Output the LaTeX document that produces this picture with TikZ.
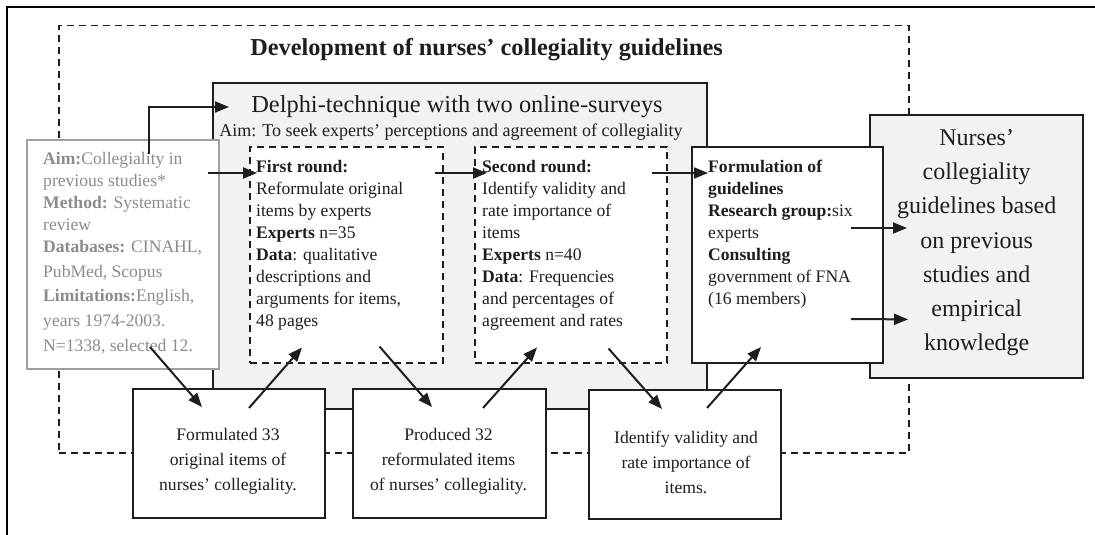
\documentclass[tikz,border=0pt]{standalone}
\usepackage{fontspec}
\setmainfont{Liberation Serif}
\usetikzlibrary{arrows.meta,calc}

\definecolor{panelgray}{HTML}{F1F2F4}
\definecolor{srcgray}{HTML}{8C8C8C}
\definecolor{srcedge}{HTML}{A0A0A0}
\definecolor{ink}{HTML}{1E1E1E}

\tikzset{
  dashbox/.style={draw=ink, line width=1.5pt, dash pattern=on 7pt off 5pt, anchor=north west, inner sep=0pt},
  roundbox/.style={dashbox, fill=white},
  panel/.style={draw=ink, line width=2pt, fill=panelgray, anchor=north west, inner sep=0pt},
  srcbox/.style={draw=srcedge, line width=2pt, fill=white, anchor=north west, inner sep=0pt},
  stepbox/.style={draw=ink, line width=2pt, fill=white, anchor=north west, inner sep=0pt},
  txt/.style={anchor=north west, align=left, inner sep=0pt},
  itemtxt/.style={align=center, inner sep=0pt, font=\fontsize{17.6}{25}\selectfont},
  flow/.style={-{Triangle[length=14pt,width=11pt]}, line width=2pt, draw=ink},
}

\begin{document}
\begin{tikzpicture}[x=1pt, y=-1pt, font=\fontsize{17.6}{22}\selectfont, text=ink]
    \useasboundingbox (0,0) rectangle (1095,535);
    \draw[line width=2.2pt] (7,535) -- (7,7) -- (1095,7);

    % outer frame of the whole development
    \node[dashbox, minimum width=850pt, minimum height=427pt] (devel) at (58,25) {};
    \node[font=\bfseries\fontsize{24.3}{28}\selectfont] (title) at (486.5,50) {Development of nurses’ collegiality guidelines};

    % Delphi panel
    \node[panel, minimum width=494pt, minimum height=326pt] (delphi) at (212,82) {};
    \node[font=\fontsize{24.4}{28}\selectfont] (delphititle) at (457,107) {Delphi-technique with two online-surveys};
    \node[font=\fontsize{18}{22}\selectfont] (delphiaim) at (451,132) {Aim: To seek experts’ perceptions and agreement of collegiality};

    % previous studies
    \node[srcbox, minimum width=192pt, minimum height=229pt] (src) at (26,139) {};
    \node[txt, text=srcgray] (srctext) at ($(src.north west)+(17,13)$) {\textbf{Aim:}Collegiality in\\previous studies*\\\textbf{Method:} Systematic\\review\\\textbf{Databases:} CINAHL,\\[2.7pt]PubMed, Scopus\\[2.7pt]\textbf{Limitations:}English,\\[2.7pt]years 1974-2003.\\[2.7pt]N=1338, selected 12.};

    % the two rounds
    \node[roundbox, minimum width=193pt, minimum height=216pt] (first) at (249,146) {};
    \node[txt] (firsttext) at ($(first.north west)+(7,14)$) {\textbf{First round:}\\Reformulate original\\items by experts\\\textbf{Experts} n=35\\\textbf{Data}: qualitative\\descriptions and\\arguments for items,\\48 pages};
    \node[roundbox, minimum width=192pt, minimum height=216pt] (second) at (474,146) {};
    \node[txt] (secondtext) at ($(second.north west)+(8,14)$) {\textbf{Second round:}\\Identify validity and\\rate importance of\\items\\\textbf{Experts} n=40\\\textbf{Data}: Frequencies\\and percentages of\\agreement and rates};

    % result
    \node[panel, line width=2.4pt, minimum width=213pt, minimum height=263pt] (nurses) at (869,114) {};
    \node[align=center, inner sep=0pt, font=\fontsize{24}{34.3}\selectfont] (nursestext) at ($(nurses.center)+(0,-4)$) {Nurses’\\collegiality\\guidelines based\\on previous\\studies and\\empirical\\knowledge};

    \node[stepbox, minimum width=191pt, minimum height=216pt] (formul) at (691,146) {};
    \node[txt] (formultext) at ($(formul.north west)+(17,14)$) {\textbf{Formulation of}\\\textbf{guidelines}\\\textbf{Research group:}six\\experts\\\textbf{Consulting}\\government of FNA\\(16 members)};

    % outcomes
    \node[stepbox, minimum width=192pt, minimum height=129pt] (items1) at (132,388) {};
    \node[itemtxt] (items1text) at ($(items1.center)+(-1,8)$) {Formulated 33\\original items of\\nurses’ collegiality.};
    \node[stepbox, minimum width=193pt, minimum height=129pt] (items2) at (352,388) {};
    \node[itemtxt] (items2text) at ($(items2.center)+(-1,8)$) {Produced 32\\reformulated items\\of nurses’ collegiality.};
    \node[stepbox, minimum width=192pt, minimum height=129pt] (items3) at (588,389) {};
    \node[itemtxt] (items3text) at ($(items3.center)+(1,8)$) {Identify validity and\\rate importance of\\items.};

    % arrows
    \draw[flow] ($(src.north)+(26,15)$) |- ($(delphi.north west)+(17,25)$);
    \draw[flow] ($(src.north east)+(-12,34)$) -- ($(first.north west)+(8,27)$);
    \draw[flow] ($(first.north east)+(-9,27)$) -- ($(second.north west)+(13,27)$);
    \draw[flow] ($(second.north east)+(-16,27)$) -- ($(formul.north west)+(17,27)$);
    \draw[flow] ($(formul.north east)+(-33,82)$) -- ($(nurses.north west)+(38,114)$);
    \draw[flow] ($(formul.south east)+(-33,-45)$) -- ($(nurses.south west)+(39,-60)$);
    \draw[flow] ($(src.south)+(27,-23)$) -- ($(items1.north west)+(70,19)$);
    \draw[flow] ($(items1.north)+(20,20)$) -- ($(first.south west)+(53,-16)$);
    \draw[flow] ($(first.south east)+(-64,-17)$) -- ($(items2.north west)+(80,19)$);
    \draw[flow] ($(items2.north west)+(131,20)$) -- ($(second.south west)+(63,-16)$);
    \draw[flow] ($(second.south east)+(-59,-15)$) -- ($(items3.north west)+(74,20)$);
    \draw[flow] ($(items3.north west)+(119,19)$) -- ($(formul.south west)+(70,-17)$);
\end{tikzpicture}
\end{document}
